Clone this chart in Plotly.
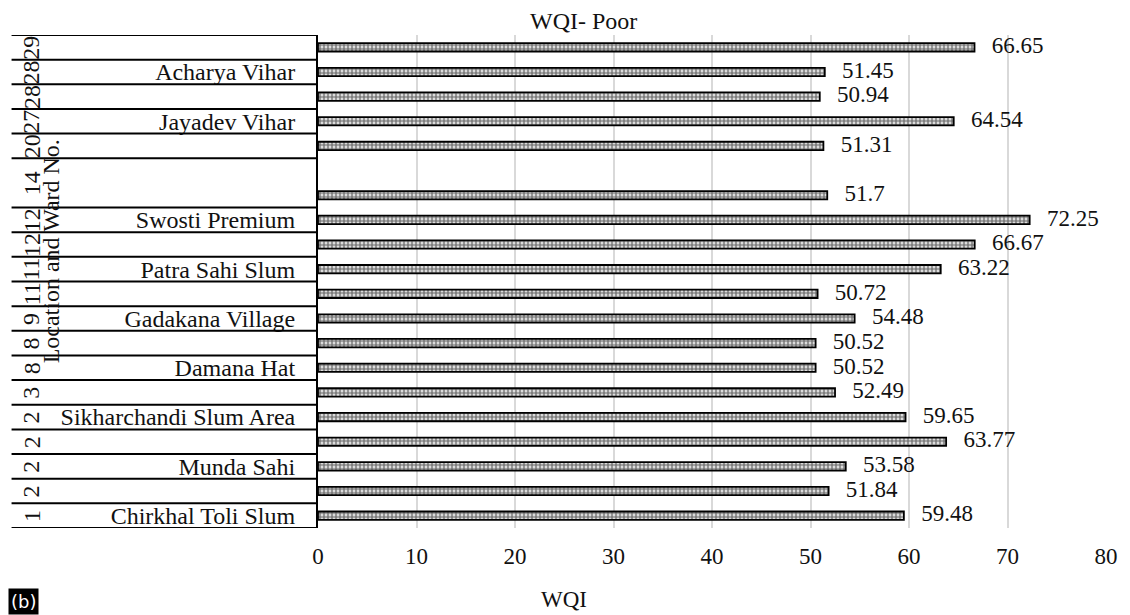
import plotly.graph_objects as go

# ---- data (bottom to top) ----
locations = ["Chirkhal Toli Slum", "", "Munda Sahi", "", "Sikharchandi Slum Area", "",
             "Damana Hat", "", "Gadakana Village", "", "Patra Sahi Slum", "",
             "Swosti Premium", "", "", "", "Jayadev Vihar", "", "Acharya Vihar", ""]
wqi = [59.48, 51.84, 53.58, 63.77, 59.65, 52.49, 50.52, 50.52, 54.48, 50.72,
       63.22, 66.67, 72.25, 51.7, None, 51.31, 64.54, 50.94, 51.45, 66.65]
ward_labels = ["1", "2", "2", "2", "2", "3", "8", "8", "9", "11", "11", "12", "12",
               "14", "20", "27", "28", "28", "29"]
ward_spans = [1, 1, 1, 1, 1, 1, 1, 1, 1, 1, 1, 1, 1, 2, 1, 1, 1, 1, 1]
x_ticks = [0, 10, 20, 30, 40, 50, 60, 70, 80]

FONT = "Liberation Serif"
TXT = "#111111"
OFF = 8  # page body margin
W, H = 1130 - OFF, 615 - OFF
ML, MR, MT, MB = 318 - OFF, 20, 35 - OFF, 87
PW, PH = W - ML - MR, H - MT - MB


def px_x(p):
    return (p - OFF - ML) / PW


def px_y(p):
    return (H - MB - (p - OFF)) / PH


slots = list(range(len(wqi)))
labels = ["" if v is None else "\u00a0\u00a0\u00a0" + str(v) for v in wqi]

fig = go.Figure()
fig.add_trace(go.Bar(
    x=wqi, y=slots, orientation="h", width=0.34,
    marker=dict(color="white", line=dict(color="black", width=1.8),
                pattern=dict(shape=".", fgcolor="black", bgcolor="white",
                             size=4, solidity=0.7)),
    hoverinfo="skip", showlegend=False,
))
fig.add_trace(go.Scatter(
    x=wqi, y=slots, mode="text", text=labels, textposition="middle right",
    textfont=dict(family=FONT, size=23, color=TXT), cliponaxis=False,
    hoverinfo="skip", showlegend=False,
))

shapes = []
annotations = []
start = 0
bounds = [-0.5]
for lab, span in zip(ward_labels, ward_spans):
    center = start + (span - 1) / 2
    annotations.append(dict(x=px_x(30), y=center, xref="paper", yref="y",
                            xanchor="center", yanchor="middle",
                            text=lab, textangle=-90, showarrow=False,
                            font=dict(family=FONT, size=24, color=TXT)))
    start += span
    bounds.append(start - 0.5)
for b in bounds:
    shapes.append(dict(type="line", xref="paper", yref="y", x0=px_x(10), x1=0,
                       y0=b, y1=b, line=dict(color="black", width=2)))

annotations += [
    dict(x=px_x(50), y=px_y(251), xref="paper", yref="paper",
         xanchor="center", yanchor="middle",
         text="Location and Ward No.", textangle=-90, showarrow=False,
         font=dict(family=FONT, size=24, color=TXT)),
    dict(x=px_x(585), y=px_y(21), xref="paper", yref="paper", text="WQI- Poor",
         xanchor="center", yanchor="middle",
         showarrow=False, font=dict(family=FONT, size=24, color=TXT)),
    dict(x=px_x(565), y=px_y(599), xref="paper", yref="paper", text="WQI",
         xanchor="center", yanchor="middle",
         showarrow=False, font=dict(family=FONT, size=23, color=TXT)),
    dict(x=px_x(22), y=px_y(601), xref="paper", yref="paper", text="(b)",
         xanchor="center", yanchor="middle",
         showarrow=False, bgcolor="black", borderpad=2,
         font=dict(family="DejaVu Sans", size=18, color="white")),
]

fig.update_layout(
    width=W, height=H,
    margin=dict(l=ML, r=MR, t=MT, b=MB),
    paper_bgcolor="white", plot_bgcolor="white",
    font=dict(family=FONT, size=23, color=TXT),
    shapes=shapes, annotations=annotations,
    xaxis=dict(range=[0, 80], tickvals=x_ticks, showgrid=True, gridcolor="#d9d9d9",
               gridwidth=2, zeroline=False, showline=False, ticks="",
               ticklabelstandoff=12, tickfont=dict(family=FONT, size=23, color=TXT)),
    yaxis=dict(range=[-0.5, len(wqi) - 0.5], tickmode="array", tickvals=slots,
               ticktext=locations, showgrid=False, zeroline=False, showline=True,
               linecolor="black", linewidth=2, ticks="", ticklabelstandoff=16,
               tickfont=dict(family=FONT, size=24, color=TXT)),
)

fig.write_html("out.html")
